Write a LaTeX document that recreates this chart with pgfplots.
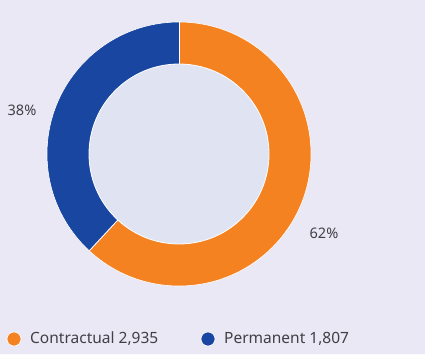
\documentclass[border=0pt]{standalone}
\usepackage{pgfplots}
\pgfplotsset{compat=1.18}
\usepackage{pgfplotstable}
\usepackage{fontspec}
\setmainfont{Noto Sans}
\definecolor{bg}{RGB}{233,232,244}
\definecolor{inner}{RGB}{224,227,241}
\definecolor{cOrange}{RGB}{245,130,32}
\definecolor{cBlue}{RGB}{24,70,160}
\definecolor{txt}{RGB}{64,64,70}
\pgfplotstableread{
label value
Contractual 2935
Permanent 1807
}\datatable
\begin{document}
\begin{tikzpicture}
\pgfplotstablegetelem{0}{value}\of\datatable \let\vA\pgfplotsretval
\pgfplotstablegetelem{1}{value}\of\datatable \let\vB\pgfplotsretval
\pgfmathsetmacro{\fracA}{\vA/(\vA+\vB)}
\pgfmathsetmacro{\angA}{360*\fracA}
\pgfmathsetmacro{\endA}{90-\angA}
\pgfmathsetmacro{\endB}{\endA+360}
\begin{axis}[scale only axis, width=425pt, height=354pt,
  xmin=0, xmax=425, ymin=0, ymax=354, hide axis, clip=false]
\addplot[draw=none, fill=bg] coordinates {(0,0) (425,0) (425,354) (0,354)} \closedcycle;
% orange sector (clockwise from top)
\fill[cOrange] (axis cs:179,200) -- ++(90:132pt) arc[start angle=90, end angle=\endA, radius=132pt] -- cycle;
% blue sector
\fill[cBlue] (axis cs:179,200) -- ++(90:132pt) arc[start angle=90, end angle=\endB, radius=132pt] -- cycle;
\draw[white, line width=0.9pt] (axis cs:179,200) -- ++(90:132pt);
\draw[white, line width=0.9pt] (axis cs:179,200) -- ++(\endA:132pt);
\draw[white, line width=0.6pt] (axis cs:179,200) circle[radius=132pt];
\fill[inner, draw=white, line width=0.8pt] (axis cs:179,200) circle[radius=90pt];
% percentage labels
\node[txt, font=\fontsize{14.5}{16}\selectfont] at (axis cs:22,244) {38\%};
\node[txt, font=\fontsize{14.5}{16}\selectfont] at (axis cs:324,121) {62\%};
% legend
\fill[cOrange, draw=white, line width=0.6pt] (axis cs:14,15) circle[radius=7pt];
\node[txt, anchor=west, inner sep=0pt, font=\fontsize{15.5}{17}\selectfont] at (axis cs:30,15) {Contractual 2,935};
\fill[cBlue, draw=white, line width=0.6pt] (axis cs:208,15) circle[radius=7pt];
\node[txt, anchor=west, inner sep=0pt, font=\fontsize{15.5}{17}\selectfont] at (axis cs:224,15) {Permanent 1,807};
\end{axis}
\end{tikzpicture}
\end{document}
